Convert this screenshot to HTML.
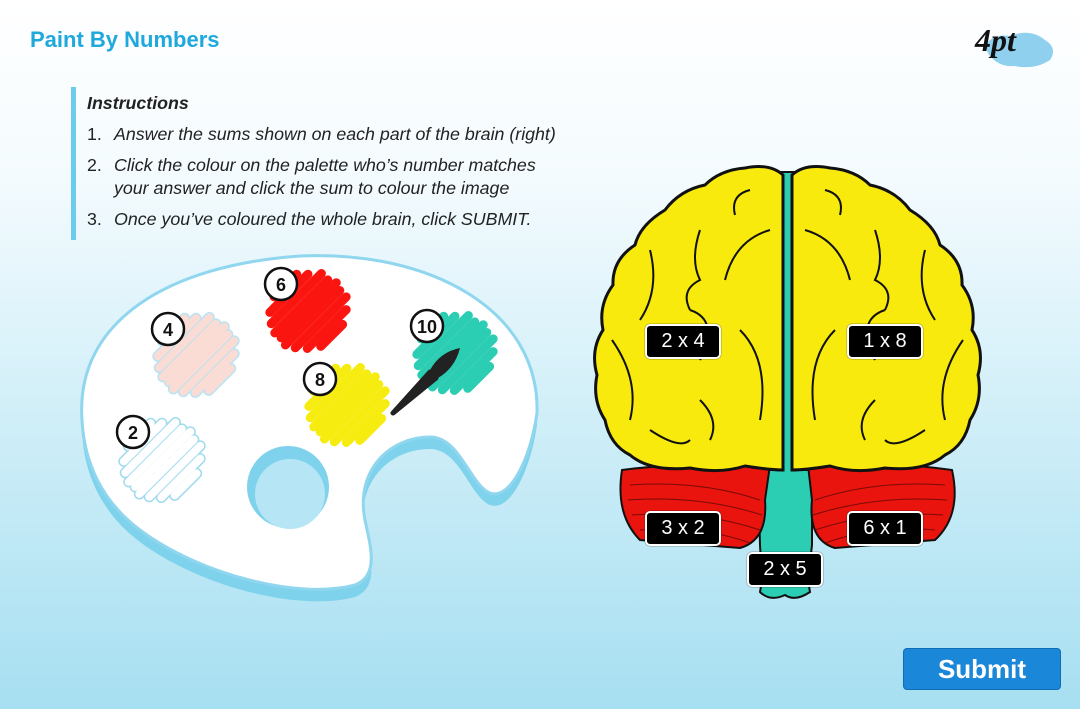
<!DOCTYPE html>
<html><head><meta charset="utf-8"><style>
body{margin:0;width:1080px;height:709px;overflow:hidden;font-family:"Liberation Sans",sans-serif;background:linear-gradient(#ffffff 0%,#f4fbfe 25%,#cfeef8 60%,#a6dff1 100%);position:relative}
.t{position:absolute;left:30px;top:27px;font-size:22px;font-weight:bold;color:#1fa8dc}
.bar{position:absolute;left:71px;top:87px;width:5px;height:153px;background:#6cccec}
.ins{position:absolute;left:87px;top:93px;font-style:italic;font-size:17.8px;color:#222}
.ins b{display:block;margin-bottom:9px}
.ins div{display:flex;margin-bottom:8px;line-height:23px}
.ins span{width:27px;font-style:normal}
.btn{position:absolute;left:903px;top:648px;width:156px;height:40px;background:#1a87d8;border:1px solid #0f6db5;border-radius:4px;color:#fff;font-weight:bold;font-size:26px;text-align:center;line-height:40px}
.lab{position:absolute;width:72px;height:31px;background:#000;border:2px solid #fff;border-radius:5px;color:#fff;font-size:20px;text-align:center;line-height:31px;box-shadow:0 0 1px #000}
</style></head><body>
<div class="t">Paint By Numbers</div>
<svg style="position:absolute;left:970px;top:18px" width="90" height="55"><path d="M15 30 Q20 15 40 18 Q60 10 75 22 Q88 30 80 42 Q65 52 45 48 Q25 50 15 30Z" fill="#8fd0ef"/><text x="5" y="33" font-family="Liberation Serif" font-style="italic" font-weight="bold" font-size="32" fill="#111">4pt</text></svg>
<div class="bar"></div>
<div class="ins"><b>Instructions</b>
<div><span>1.</span>Answer the sums shown on each part of the brain (right)</div>
<div><span>2.</span>Click the colour on the palette who’s number matches<br>your answer and click the sum to colour the image</div>
<div><span>3.</span>Once you’ve coloured the whole brain, click SUBMIT.</div></div>

<svg style="position:absolute;left:0;top:0" width="1080" height="709">
<defs>
<g id="bl" stroke-linecap="round" fill="none">
<line x1="-14" y1="-34" x2="18" y2="-34"/><line x1="-28" y1="-26" x2="26" y2="-26"/><line x1="-35" y1="-17" x2="36" y2="-17"/><line x1="-39" y1="-8" x2="36" y2="-8"/><line x1="-38" y1="0" x2="40" y2="0"/><line x1="-40" y1="8" x2="37" y2="8"/><line x1="-35" y1="17" x2="37" y2="17"/><line x1="-27" y1="26" x2="28" y2="26"/><line x1="-16" y1="34" x2="15" y2="34"/>
</g>
</defs>
<path transform="translate(0,12)" d="M 82 420 C 75 320 170 265 300 256 C 430 250 540 310 537 413 C 530 460 510 500 490 493 C 470 485 460 437 430 437 C 390 437 355 470 365 520 C 370 545 380 575 355 585 C 300 600 200 575 140 530 C 100 500 84 460 82 420 Z" fill="#7fd2ec"/>
<path d="M 82 420 C 75 320 170 265 300 256 C 430 250 540 310 537 413 C 530 460 510 500 490 493 C 470 485 460 437 430 437 C 390 437 355 470 365 520 C 370 545 380 575 355 585 C 300 600 200 575 140 530 C 100 500 84 460 82 420 Z" fill="#fff" stroke="#8fd6ee" stroke-width="3"/>
<circle cx="288" cy="487" r="41" fill="#7fd2ec"/><circle cx="290" cy="494" r="35" fill="#b6e6f5"/>
<use href="#bl" transform="translate(308,311) rotate(-45)" stroke="#fa1510" stroke-width="9"/>
<use href="#bl" transform="translate(196,355) rotate(-45)" stroke="#b9e3f2" stroke-width="11"/>
<use href="#bl" transform="translate(196,355) rotate(-45)" stroke="#fbdcd5" stroke-width="8"/>
<use href="#bl" transform="translate(347,405) rotate(-45)" stroke="#f7ec10" stroke-width="9"/>
<use href="#bl" transform="translate(455,353) rotate(-45)" stroke="#2bcdb3" stroke-width="9"/>
<use href="#bl" transform="translate(162,460) rotate(-45)" stroke="#9fdaee" stroke-width="11"/>
<use href="#bl" transform="translate(162,460) rotate(-45)" stroke="#fff" stroke-width="8"/>
<path d="M393 413 L430 372 L436 378 Z" fill="#222" stroke="#222" stroke-width="5" stroke-linejoin="round"/>
<path d="M430 370 Q440 352 460 348 Q455 368 438 378 Z" fill="#222"/>
<g font-size="18" font-weight="bold" text-anchor="middle" fill="#111">
<circle cx="281" cy="284" r="16" fill="#fff" stroke="#111" stroke-width="2.5"/><text x="281" y="291">6</text>
<circle cx="168" cy="329" r="16" fill="#fff" stroke="#111" stroke-width="2.5"/><text x="168" y="336">4</text>
<circle cx="320" cy="379" r="16" fill="#fff" stroke="#111" stroke-width="2.5"/><text x="320" y="386">8</text>
<circle cx="427" cy="326" r="16" fill="#fff" stroke="#111" stroke-width="2.5"/><text x="427" y="333">10</text>
<circle cx="133" cy="432" r="16" fill="#fff" stroke="#111" stroke-width="2.5"/><text x="133" y="439">2</text>
</g>
<!-- brain -->
<path d="M780 172 L796 172 L796 470 L812 470 L812 545 L808 580 L810 592 Q795 602 785 595 Q770 602 760 592 L762 580 L760 545 L758 470 L780 470Z" fill="#2bcdb3" stroke="#111" stroke-width="2"/>
<path d="M770 465 Q700 460 622 470 Q615 515 640 540 L740 548 Q768 540 765 500Z" fill="#e8140d" stroke="#111" stroke-width="2"/>
<path d="M808 465 Q880 460 952 470 Q962 515 935 540 L835 548 Q808 540 812 500Z" fill="#e8140d" stroke="#111" stroke-width="2"/>
<g stroke="#7a0a06" stroke-width="1" fill="none"><path d="M630 485 Q700 480 760 500 M628 500 Q700 495 762 515 M632 515 Q700 510 760 530 M640 530 Q700 525 750 543"/><path d="M945 485 Q875 480 815 500 M947 500 Q875 495 813 515 M943 515 Q875 510 815 530 M935 530 Q875 525 825 543"/></g>
<path d="M783 175 Q770 163 745 168 Q720 170 705 185 Q680 190 665 210 Q640 225 635 245 Q612 260 613 285 Q598 305 603 330 Q590 350 597 375 Q592 400 605 420 Q610 445 630 455 Q650 472 690 468 Q720 474 745 466 Q770 470 783 470Z" fill="#f8ea0c" stroke="#111" stroke-width="3"/>
<path d="M792 175 Q805 163 830 168 Q855 170 870 185 Q895 190 910 210 Q935 225 940 245 Q963 260 962 285 Q977 305 972 330 Q985 350 978 375 Q983 400 970 420 Q965 445 945 455 Q925 472 885 468 Q855 474 830 466 Q805 470 792 470Z" fill="#f8ea0c" stroke="#111" stroke-width="3"/>
<g fill="none" stroke="#111" stroke-width="2">
<path d="M750 190 Q730 195 735 215 M700 230 Q690 260 700 280 Q680 290 690 310 M650 250 Q660 290 640 320 M690 310 Q720 320 700 360 M612 340 Q640 380 630 420 M700 400 Q720 420 710 440 M770 230 Q735 240 725 280 M740 330 Q770 360 760 420 M650 430 Q680 450 690 440"/>
<path d="M825 190 Q845 195 840 215 M875 230 Q885 260 875 280 Q895 290 885 310 M925 250 Q915 290 935 320 M885 310 Q855 320 875 360 M963 340 Q935 380 945 420 M875 400 Q855 420 865 440 M805 230 Q840 240 850 280 M835 330 Q805 360 815 420 M925 430 Q895 450 885 440"/>
</g>
</svg>
<div class="lab" style="left:645px;top:324px">2 x 4</div>
<div class="lab" style="left:847px;top:324px">1 x 8</div>
<div class="lab" style="left:645px;top:511px">3 x 2</div>
<div class="lab" style="left:847px;top:511px">6 x 1</div>
<div class="lab" style="left:747px;top:552px">2 x 5</div>
<div class="btn">Submit</div>
</body></html>
